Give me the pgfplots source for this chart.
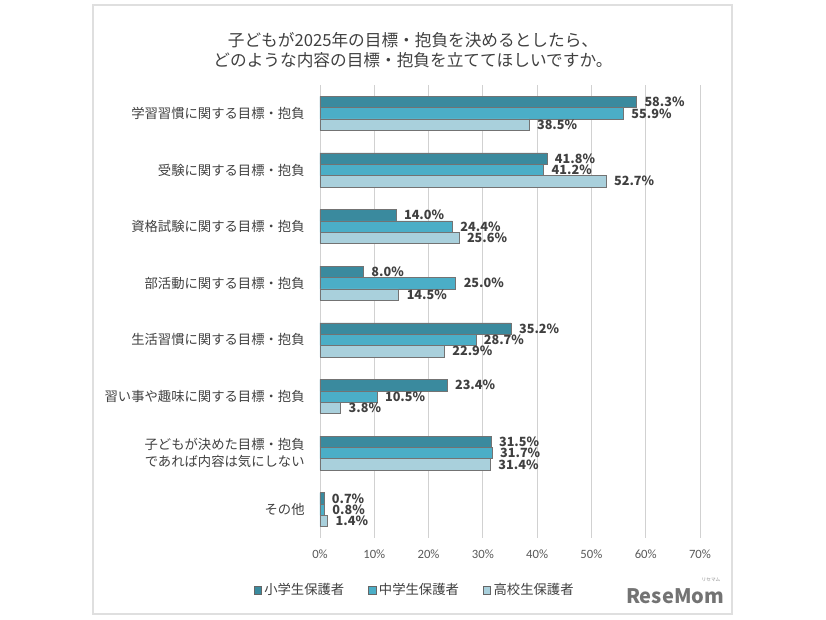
\documentclass[border=0pt]{standalone}
\usepackage{pgfplots}
\pgfplotsset{compat=1.18}
\usepackage{fontspec}
\setmainfont{Noto Sans CJK JP}
\newfontfamily\lat{Carlito}
\definecolor{c1}{HTML}{3A8A9E}
\definecolor{c2}{HTML}{4BAEC7}
\definecolor{c3}{HTML}{A9D0DC}
\definecolor{txt}{HTML}{404040}
\definecolor{tick}{HTML}{595959}
\begin{document}
\begin{tikzpicture}
\path[use as bounding box] (0,0) rectangle (826*0.75pt,-620*0.75pt);
\draw[gray!25, line width=0.8pt] (93*0.75pt,-5*0.75pt) rectangle (732*0.75pt,-614*0.75pt);
\node[align=center, text=txt, font=\fontsize{12.5pt}{15.5pt}\selectfont] at (413*0.75pt,-50*0.75pt)
  {子どもが2025年の目標・抱負を決めるとしたら、\\どのような内容の目標・抱負を立ててほしいですか。};
\begin{axis}[
  at={(320*0.75pt,-538*0.75pt)}, anchor=south west,
  scale only axis, width=380*0.75pt, height=453*0.75pt,
  xbar, bar width=0.2,
  xmin=0, xmax=70, ymin=-0.5, ymax=7.5,
  y dir=reverse,
  xtick={0,10,...,70},
  xticklabel={\pgfmathprintnumber{\tick}\%},
  ytick={0,...,7},
  yticklabels={学習習慣に関する目標・抱負,受験に関する目標・抱負,資格試験に関する目標・抱負,部活動に関する目標・抱負,生活習慣に関する目標・抱負,習い事や趣味に関する目標・抱負,{子どもが決めた目標・抱負\\であれば内容は気にしない},その他},
  yticklabel style={align=right, text=txt, font=\fontsize{10pt}{13pt}\selectfont, xshift=-8pt},
  xticklabel style={text=tick, font=\lat\fontsize{9.5pt}{11pt}\selectfont, yshift=-5pt},
  /pgf/number format/assume math mode=true,
  axis line style={draw=none},
  major tick length=0pt,
  xmajorgrids, grid style={draw=black!18, line width=0.6pt},
  point meta=x,
  nodes near coords={\pgfmathprintnumber[fixed,fixed zerofill,precision=1]{\pgfplotspointmeta}\%},
  nodes near coords style={font=\bfseries\fontsize{9.5pt}{10pt}\selectfont, text=txt, anchor=west, xshift=2.5pt},
  legend columns=3,
  legend style={at={(0.25,-0.115)}, anchor=center, draw=none, font=\fontsize{10pt}{11pt}\selectfont, text=txt,
    /tikz/every even column/.append style={column sep=16pt}},
  legend image code/.code={\draw[#1, draw=black!60, line width=0.4pt, fill] (0pt,-2.8pt) rectangle (5.6pt,2.8pt);},
]
\addplot[fill=c1, draw=black!55, line width=0.4pt, bar shift=-0.2] coordinates {
(58.3,0) (41.8,1) (14.0,2) (8.0,3) (35.2,4) (23.4,5) (31.5,6) (0.7,7)};
\addplot[fill=c2, draw=black!55, line width=0.4pt, bar shift=0] coordinates {
(55.9,0) (41.2,1) (24.4,2) (25.0,3) (28.7,4) (10.5,5) (31.7,6) (0.8,7)};
\addplot[fill=c3, draw=black!55, line width=0.4pt, bar shift=0.2] coordinates {
(38.5,0) (52.7,1) (25.6,2) (14.5,3) (22.9,4) (3.8,5) (31.4,6) (1.4,7)};
\legend{小学生保護者,中学生保護者,高校生保護者}
\end{axis}
\node[text=black!55, font=\bfseries\fontsize{15pt}{15pt}\selectfont, anchor=center] at (675*0.75pt,-596*0.75pt) {ReseMom};
\node[text=black!45, font=\fontsize{3.5pt}{4pt}\selectfont] at (711*0.75pt,-580*0.75pt) {リセマム};
\end{tikzpicture}
\end{document}
